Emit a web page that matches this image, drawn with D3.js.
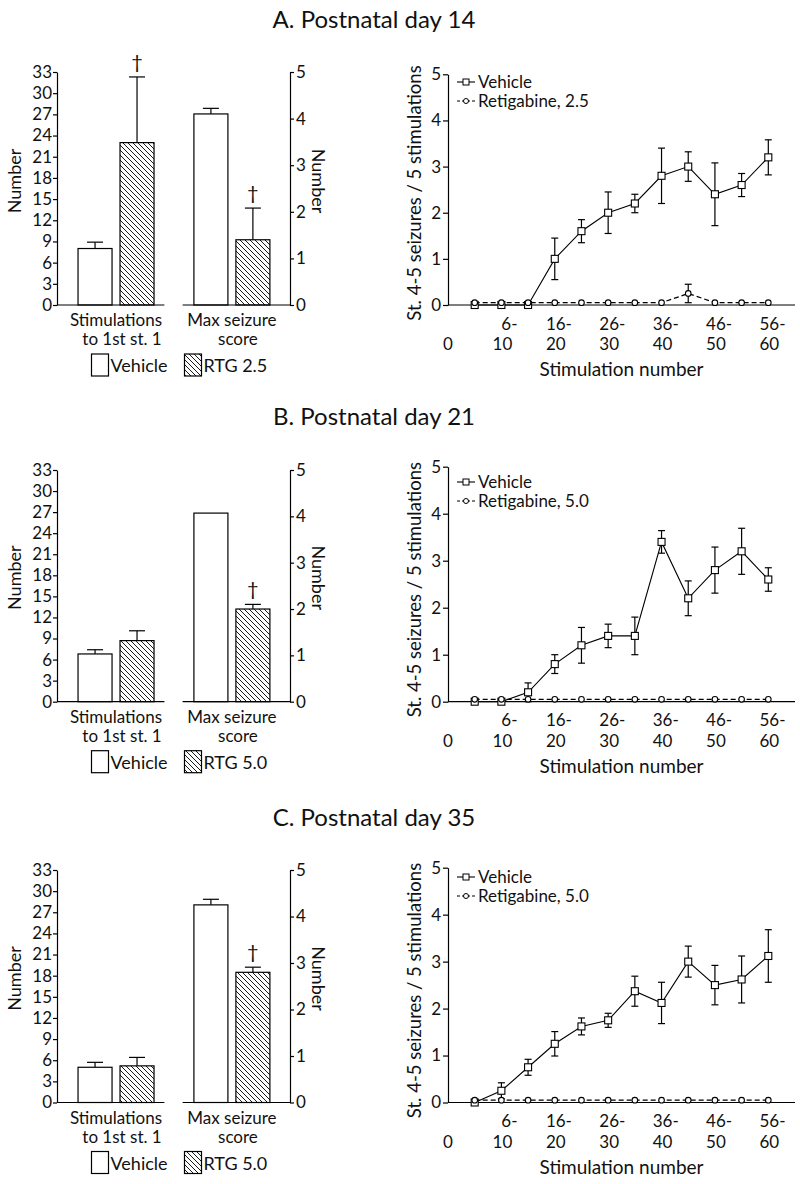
<!DOCTYPE html>
<html><head><meta charset="utf-8">
<script src="https://cdn.jsdelivr.net/npm/d3@7"></script>
<style>
body{margin:0;background:#fff}
svg{display:block}
text{font-family:Lato,'Open Sans',sans-serif;fill:#111}
</style>
</head><body>
<svg id="c" width="800" height="1184"></svg>
<script>
// ---------------- DATA ----------------
const panelTitles = ["A. Postnatal day 14", "B. Postnatal day 21", "C. Postnatal day 35"];
const rtgLegendLabels = ["RTG 2.5", "RTG 5.0", "RTG 5.0"];
const vehicleLegendLabel = "Vehicle";
const retigabineLegendLabels = ["Retigabine, 2.5", "Retigabine, 5.0", "Retigabine, 5.0"];

const barGroups = ["stim", "max"];
const barGroupLabels = [["Stimulations", "to 1st st. 1"], ["Max seizure", "score"]];
const treatments = ["Vehicle", "RTG"];
const leftTicks = [0, 3, 6, 9, 12, 15, 18, 21, 24, 27, 30, 33];
const rightTicks = [0, 1, 2, 3, 4, 5];
const lineYTicks = [0, 1, 2, 3, 4, 5];

// Stimulations to 1st stage 1 (left axis)
const stimVehicle   = [8.0, 6.8, 5.0];
const stimVehicleSE = [0.9, 0.6, 0.7];
const stimRTG       = [23.0, 8.7, 5.2];
const stimRTGSE     = [9.3, 1.4, 1.2];
const stimRTGSig    = [true, false, false];
// Max seizure score (right axis)
const maxVehicle    = [4.1, 4.07, 4.25];
const maxVehicleSE  = [0.12, 0, 0.12];
const maxRTG        = [1.4, 2.0, 2.8];
const maxRTGSE      = [0.68, 0.1, 0.11];
const maxRTGSig     = [true, true, true];

// Stimulation blocks
const blocks = ["1-5","6-10","11-15","16-20","21-25","26-30","31-35","36-40","41-45","46-50","51-55","56-60"];
const xTickValues = [0, 2, 4, 6, 8, 10, 12];
const xTickLabels = ["0", "6-10", "16-20", "26-30", "36-40", "46-50", "56-60"];

const vehicleA   = [0, 0, 0, 1.0, 1.6, 2.0, 2.2, 2.8, 3.0, 2.4, 2.6, 3.2];
const vehicleASE = [0, 0, 0, 0.45, 0.25, 0.45, 0.2, 0.6, 0.32, 0.68, 0.25, 0.38];
const rtgA       = [0.05, 0.05, 0.05, 0.05, 0.05, 0.05, 0.05, 0.05, 0.25, 0.05, 0.05, 0.05];
const rtgASE     = [0, 0, 0, 0, 0, 0, 0, 0, 0.2, 0, 0, 0];

const vehicleB   = [0, 0, 0.2, 0.8, 1.2, 1.4, 1.4, 3.4, 2.2, 2.8, 3.2, 2.6];
const vehicleBSE = [0, 0, 0.2, 0.2, 0.38, 0.25, 0.4, 0.24, 0.37, 0.49, 0.49, 0.25];
const rtgB       = [0.05, 0.05, 0.05, 0.05, 0.05, 0.05, 0.05, 0.05, 0.05, 0.05, 0.05, 0.05];
const rtgBSE     = [0, 0, 0, 0, 0, 0, 0, 0, 0, 0, 0, 0];

const vehicleC   = [0, 0.25, 0.75, 1.25, 1.62, 1.75, 2.37, 2.12, 3.0, 2.5, 2.62, 3.12];
const vehicleCSE = [0, 0.17, 0.17, 0.26, 0.18, 0.15, 0.32, 0.44, 0.33, 0.42, 0.5, 0.56];
const rtgC       = [0.05, 0.05, 0.05, 0.05, 0.05, 0.05, 0.05, 0.05, 0.05, 0.05, 0.05, 0.05];
const rtgCSE     = [0, 0, 0, 0, 0, 0, 0, 0, 0, 0, 0, 0];

const vehicleSeries = [vehicleA, vehicleB, vehicleC];
const vehicleSESeries = [vehicleASE, vehicleBSE, vehicleCSE];
const rtgSeries = [rtgA, rtgB, rtgC];
const rtgSESeries = [rtgASE, rtgBSE, rtgCSE];

// ---------------- LAYOUT ----------------
const base = [305, 701.7, 1102.5];
const barTop = [72, 470, 870];
const lineTop = [74.3, 466.7, 867.7];
const lineLegendY = [82, 482, 877];
const groupAlign = [0.67, 0.36];
const FS = 17;      // tick labels
const LFS = 18;     // axis titles
const fmt = d3.format("d");

const svg = d3.select("#c");
const defs = svg.append("defs");
const pat = defs.append("pattern").attr("id", "hatch")
  .attr("patternUnits", "userSpaceOnUse").attr("width", 5).attr("height", 5);
pat.append("rect").attr("width", 5).attr("height", 5).attr("fill", "#fff");
pat.append("path").attr("d", "M-1,-1 L6,6 M-1,4 L1,6 M4,-1 L6,1")
  .attr("stroke", "#000").attr("stroke-width", 0.9);

function styleAxis(g) {
  g.attr("font-family", "Lato,'Open Sans',sans-serif").attr("font-size", FS);
  g.selectAll("path.domain").attr("stroke", "#000").attr("stroke-width", 1.2);
  g.selectAll(".tick line").attr("stroke", "#000").attr("stroke-width", 1.2);
  g.selectAll(".tick text").attr("fill", "#111");
}

const xGroup = d3.scaleBand().domain(barGroups).range([57, 290]).paddingInner(0.145);
const innerScales = barGroups.map((g, i) =>
  d3.scaleBand().domain(treatments).range([0, xGroup.bandwidth()])
    .paddingInner(0.19).paddingOuter(0.374).align(groupAlign[i]));

const xLine = d3.scaleLinear().domain([0, 13]).range([448, 795]);

for (let p = 0; p < 3; p++) {
  const B = base[p];
  svg.append("text").attr("x", 374).attr("y", B - 277)
    .attr("text-anchor", "middle").attr("font-size", 24).text(panelTitles[p]);

  // ---------- Bar chart ----------
  const yL = d3.scaleLinear().domain([0, 33]).range([B, barTop[p]]);
  const yR = d3.scaleLinear().domain([0, 5]).range([B, barTop[p]]);
  const bars = [
    {g: "stim", t: "Vehicle", v: stimVehicle[p], se: stimVehicleSE[p], sig: false, y: yL, gi: 0},
    {g: "stim", t: "RTG", v: stimRTG[p], se: stimRTGSE[p], sig: stimRTGSig[p], y: yL, gi: 0},
    {g: "max", t: "Vehicle", v: maxVehicle[p], se: maxVehicleSE[p], sig: false, y: yR, gi: 1},
    {g: "max", t: "RTG", v: maxRTG[p], se: maxRTGSE[p], sig: maxRTGSig[p], y: yR, gi: 1}
  ];
  const bg = svg.append("g");
  bars.forEach(d => {
    const xi = innerScales[d.gi];
    const x0 = xGroup(d.g) + xi(d.t);
    const w = xi.bandwidth();
    const cx = x0 + w / 2;
    if (d.se > 0) {
      bg.append("line").attr("x1", cx).attr("x2", cx)
        .attr("y1", d.y(d.v)).attr("y2", d.y(d.v + d.se))
        .attr("stroke", "#000").attr("stroke-width", 1.2);
      bg.append("line").attr("x1", cx - 8).attr("x2", cx + 8)
        .attr("y1", d.y(d.v + d.se)).attr("y2", d.y(d.v + d.se))
        .attr("stroke", "#000").attr("stroke-width", 1.2);
    }
    bg.append("rect").attr("x", x0).attr("y", d.y(d.v))
      .attr("width", w).attr("height", B - d.y(d.v))
      .attr("fill", d.t === "RTG" ? "url(#hatch)" : "#fff")
      .attr("stroke", "#000").attr("stroke-width", 1.2);
    if (d.sig) {
      bg.append("text").attr("x", cx).attr("y", d.y(d.v + d.se) - 8)
        .attr("text-anchor", "middle").attr("font-size", 20).text("\u2020");
    }
  });
  barGroups.forEach(g => {
    bg.append("line").attr("x1", xGroup(g)).attr("x2", xGroup(g) + xGroup.bandwidth())
      .attr("y1", B).attr("y2", B).attr("stroke", "#000").attr("stroke-width", 1.2);
  });
  svg.append("g").attr("transform", "translate(57,0)")
    .call(d3.axisLeft(yL).tickValues(leftTicks).tickFormat(fmt).tickSize(4).tickSizeOuter(0).tickPadding(1))
    .call(styleAxis);
  svg.append("g").attr("transform", "translate(290,0)")
    .call(d3.axisRight(yR).tickValues(rightTicks).tickFormat(fmt).tickSize(4).tickSizeOuter(0).tickPadding(2))
    .call(styleAxis);
  svg.append("text").attr("transform", `translate(21,${B - 124}) rotate(-90)`)
    .attr("text-anchor", "middle").attr("font-size", LFS).text("Number");
  svg.append("text").attr("transform", `translate(312,${B - 124}) rotate(90)`)
    .attr("text-anchor", "middle").attr("font-size", LFS).text("Number");
  barGroups.forEach((g, i) => {
    const xi = innerScales[i];
    const cx = xGroup(g) + (xi("Vehicle") + xi("RTG") + xi.bandwidth()) / 2;
    svg.append("text").attr("x", cx).attr("y", B + 21)
      .attr("text-anchor", "middle").attr("font-size", FS).text(barGroupLabels[i][0]);
    svg.append("text").attr("x", cx + 6).attr("y", B + 40)
      .attr("text-anchor", "middle").attr("font-size", FS).text(barGroupLabels[i][1]);
  });
  const legItems = [{t: "Vehicle", label: vehicleLegendLabel, x: 91.5},
                    {t: "RTG", label: rtgLegendLabels[p], x: 184.5}];
  legItems.forEach(l => {
    svg.append("rect").attr("x", l.x).attr("y", B + 49).attr("width", 17).attr("height", 22)
      .attr("fill", l.t === "RTG" ? "url(#hatch)" : "#fff")
      .attr("stroke", "#000").attr("stroke-width", 1.2);
    svg.append("text").attr("x", l.x + 19).attr("y", B + 67)
      .attr("font-size", 18).text(l.label);
  });

  // ---------- Line chart ----------
  const y = d3.scaleLinear().domain([0, 5]).range([B, lineTop[p]]);
  const lg = svg.append("g");
  lg.append("line").attr("x1", xLine(0)).attr("x2", xLine(13)).attr("y1", B).attr("y2", B)
    .attr("stroke", "#000").attr("stroke-width", 1.2);
  svg.append("g").attr("transform", "translate(448,0)")
    .call(d3.axisLeft(y).tickValues(lineYTicks).tickFormat(fmt).tickSize(5).tickSizeOuter(0).tickPadding(2))
    .call(styleAxis);
  xTickValues.forEach((v, i) => {
    const lab = xTickLabels[i];
    if (lab.indexOf("-") < 0) {
      svg.append("text").attr("x", xLine(v)).attr("y", B + 45)
        .attr("text-anchor", "middle").attr("font-size", FS).text(lab);
    } else {
      const parts = lab.split("-");
      const t2 = svg.append("text").attr("x", xLine(v) + 1).attr("y", B + 45)
        .attr("text-anchor", "middle").attr("font-size", FS).text(parts[1]);
      const bb = t2.node().getBBox();
      const shift = (parts[1].length - parts[0].length) * 0.52 * FS;
      svg.append("text").attr("x", bb.x + shift).attr("y", B + 24.5)
        .attr("font-size", FS).text(parts[0] + "-");
    }
  });
  svg.append("text").attr("x", (xLine(0) + xLine(13)) / 2).attr("y", B + 71)
    .attr("text-anchor", "middle").attr("font-size", 19).text("Stimulation number");
  svg.append("text").attr("transform", `translate(421,${B - 112}) rotate(-90)`)
    .attr("text-anchor", "middle").attr("font-size", 18.5).text("St. 4-5 seizures / 5 stimulations");

  const veh = vehicleSeries[p], vehSE = vehicleSESeries[p];
  const rtg = rtgSeries[p], rtgSE = rtgSESeries[p];
  const line = d3.line().x((d, i) => xLine(i + 1)).y(d => y(d));
  lg.append("path").datum(rtg).attr("d", line).attr("fill", "none")
    .attr("stroke", "#000").attr("stroke-width", 1.3).attr("stroke-dasharray", "5,3");
  lg.append("path").datum(veh).attr("d", line).attr("fill", "none")
    .attr("stroke", "#000").attr("stroke-width", 1.1);
  function errBars(vals, ses) {
    vals.forEach((v, i) => {
      if (ses[i] <= 0) return;
      const cx = xLine(i + 1);
      lg.append("line").attr("x1", cx).attr("x2", cx).attr("y1", y(v - ses[i])).attr("y2", y(v + ses[i]))
        .attr("stroke", "#000").attr("stroke-width", 1.2);
      [v - ses[i], v + ses[i]].forEach(e => {
        lg.append("line").attr("x1", cx - 3.5).attr("x2", cx + 3.5).attr("y1", y(e)).attr("y2", y(e))
          .attr("stroke", "#000").attr("stroke-width", 1.2);
      });
    });
  }
  errBars(veh, vehSE);
  errBars(rtg, rtgSE);
  lg.selectAll(null).data(veh).enter().append("rect")
    .attr("x", (d, i) => xLine(i + 1) - 3.5).attr("y", d => y(d) - 3.5)
    .attr("width", 7).attr("height", 7)
    .attr("fill", "#fff").attr("stroke", "#000").attr("stroke-width", 1.1);
  lg.selectAll(null).data(rtg).enter().append("circle")
    .attr("cx", (d, i) => xLine(i + 1)).attr("cy", d => y(d)).attr("r", 2.8)
    .attr("fill", "#fff").attr("stroke", "#000").attr("stroke-width", 1.1);

  const ly = lineLegendY[p];
  lg.append("line").attr("x1", 457).attr("x2", 475).attr("y1", ly).attr("y2", ly)
    .attr("stroke", "#000").attr("stroke-width", 1.1);
  lg.append("rect").attr("x", 463).attr("y", ly - 3).attr("width", 6).attr("height", 6)
    .attr("fill", "#fff").attr("stroke", "#000").attr("stroke-width", 1);
  svg.append("text").attr("x", 478).attr("y", ly + 6).attr("font-size", 17).text(vehicleLegendLabel);
  lg.append("line").attr("x1", 457).attr("x2", 475).attr("y1", ly + 19).attr("y2", ly + 19)
    .attr("stroke", "#000").attr("stroke-width", 1.1).attr("stroke-dasharray", "3,2");
  lg.append("circle").attr("cx", 466).attr("cy", ly + 19).attr("r", 2.5)
    .attr("fill", "#fff").attr("stroke", "#000").attr("stroke-width", 1);
  svg.append("text").attr("x", 478).attr("y", ly + 25).attr("font-size", 17).text(retigabineLegendLabels[p]);
}
</script>
</body></html>
